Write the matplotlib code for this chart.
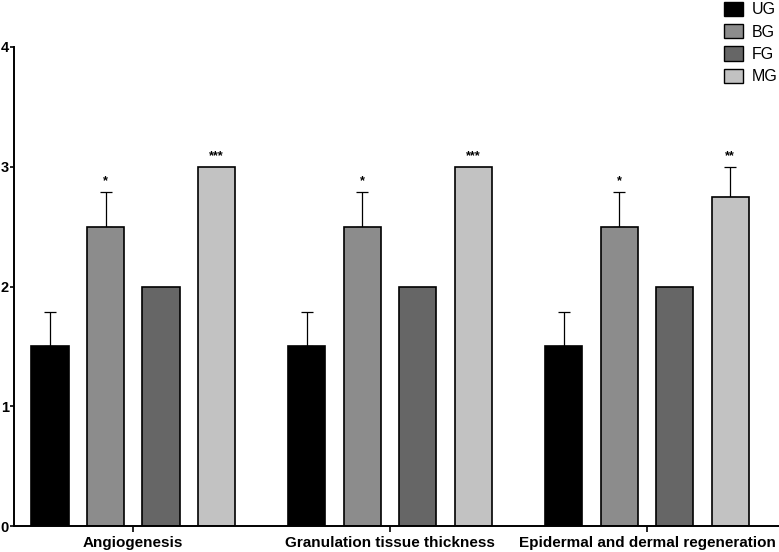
import matplotlib
matplotlib.use("Agg")
import matplotlib.pyplot as plt
import numpy as np
from matplotlib.patches import Patch

categories = ["Angiogenesis", "Granulation tissue thickness", "Epidermal and dermal regeneration"]
groups = ["UG", "BG", "FG", "MG"]
values = {
    "UG": [1.5, 1.5, 1.5],
    "BG": [2.5, 2.5, 2.5],
    "FG": [2.0, 2.0, 2.0],
    "MG": [3.0, 3.0, 2.75],
}
errors = {
    "UG": [0.29, 0.29, 0.29],
    "BG": [0.29, 0.29, 0.29],
    "FG": [0.0, 0.0, 0.0],
    "MG": [0.0, 0.0, 0.25],
}
stars = {
    "UG": ["", "", ""],
    "BG": ["*", "*", "*"],
    "FG": ["", "", ""],
    "MG": ["***", "***", "**"],
}
colors = {"UG": "#000000", "BG": "#8c8c8c", "FG": "#666666", "MG": "#c2c2c2"}

plt.rcParams['font.family'] = ['Liberation Sans', 'DejaVu Sans']

fig = plt.figure(figsize=(7.79, 5.52), dpi=100)
ax = fig.add_axes([14/779, 1-526/552, 1-14/779, (526-47)/552])

group_gap = 4.63
centers = np.arange(len(categories)) * group_gap
offsets = [-1.5, -0.5, 0.5, 1.5]
width = 0.67

for g, off in zip(groups, offsets):
    x = centers + off
    v = np.array(values[g])
    e = np.array(errors[g])
    ax.bar(x, v, width=width, color=colors[g], edgecolor="black", linewidth=1.2, zorder=2)
    mask = e > 0
    if mask.any():
        ax.errorbar(x[mask], v[mask], yerr=[np.zeros(mask.sum()), e[mask]], fmt="none",
                    ecolor="black", elinewidth=0.9, capsize=4.5, capthick=0.9, zorder=1)
    for xi, vi, ei, s in zip(x, v, e, stars[g]):
        if s:
            ax.text(xi, vi + ei + 0.04, s, ha="center", va="bottom", fontsize=9, fontweight="bold")

ax.set_xlim(centers[0] - 2.15, centers[-1] + 2.38)
ax.set_ylim(0, 4)
ax.set_yticks([0, 1, 2, 3, 4])
ax.set_yticklabels(["0", "1", "2", "3", "4"], fontsize=10.5, fontweight="bold")
ax.set_xticks(centers)
ax.set_xticklabels(categories, fontsize=11, fontweight="bold")
ax.tick_params(axis="y", length=3, width=1.2, pad=0.8)
ax.tick_params(axis="x", length=4, width=1.2, pad=3)
for sp in ["top", "right"]:
    ax.spines[sp].set_visible(False)
for sp in ["left", "bottom"]:
    ax.spines[sp].set_linewidth(1.4)

handles = [Patch(facecolor=colors[g], edgecolor="black", linewidth=1.0, label=g) for g in groups]
leg = fig.legend(handles=handles, loc="upper right", bbox_to_anchor=(1.0, 1.0), frameon=False,
                 fontsize=11.5, handlelength=1.2, handleheight=1.0, handletextpad=0.55, labelspacing=0.42,
                 borderaxespad=0.0, borderpad=0.1)

fig.savefig("out.png", dpi=100)
